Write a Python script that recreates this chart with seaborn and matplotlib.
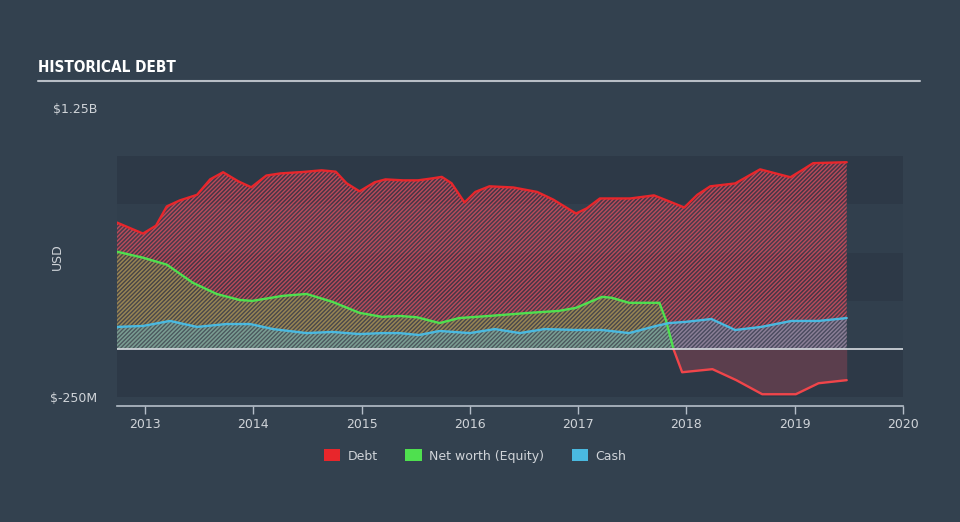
import matplotlib
matplotlib.use("Agg")
import matplotlib.pyplot as plt
import seaborn as sns
from matplotlib.patches import Patch
from matplotlib.lines import Line2D

# ---- data (millions USD, decimal years) ----
debt_x = [2012.74, 2012.98, 2013.10, 2013.20, 2013.32, 2013.48, 2013.60, 2013.72, 2013.86, 2013.98,
          2014.12, 2014.25, 2014.45, 2014.63, 2014.76, 2014.86, 2014.98, 2015.12, 2015.22, 2015.38,
          2015.52, 2015.65, 2015.74, 2015.83, 2015.95, 2016.05, 2016.18, 2016.40, 2016.62, 2016.77,
          2016.98, 2017.08, 2017.20, 2017.48, 2017.70, 2017.84, 2017.98, 2018.10, 2018.22, 2018.45,
          2018.68, 2018.96, 2019.06, 2019.17, 2019.48]
debt_y = [656, 599, 640, 740, 771, 800, 880, 917, 870, 839,
          900, 911, 918, 927, 920, 860, 818, 865, 880, 875,
          875, 885, 893, 860, 760, 815, 844, 838, 815, 775,
          703, 730, 781, 781, 797, 766, 734, 800, 844, 859,
          932, 891, 925, 964, 969]

equity_x = [2012.74, 2012.98, 2013.20, 2013.44, 2013.66, 2013.87, 2013.99, 2014.27, 2014.49, 2014.73,
            2014.98, 2015.19, 2015.35, 2015.51, 2015.72, 2015.90, 2016.18, 2016.55, 2016.82, 2016.98,
            2017.22, 2017.31, 2017.47, 2017.75, 2017.81, 2017.88, 2017.96, 2018.24, 2018.46, 2018.70,
            2019.01, 2019.22, 2019.48]
equity_y = [505, 474, 438, 344, 286, 255, 250, 276, 286, 245,
            188, 167, 172, 165, 135, 161, 172, 188, 198, 214,
            271, 266, 240, 240, 151, 0, -120, -104, -161, -234,
            -234, -177, -161]

cash_x = [2012.74, 2012.98, 2013.23, 2013.48, 2013.75, 2013.97, 2014.18, 2014.49, 2014.73, 2014.98,
          2015.19, 2015.35, 2015.53, 2015.72, 2016.00, 2016.23, 2016.46, 2016.69, 2016.98, 2017.22,
          2017.47, 2017.72, 2017.84, 2017.99, 2018.23, 2018.45, 2018.69, 2018.97, 2019.22, 2019.48]
cash_y = [115, 120, 146, 115, 130, 130, 104, 83, 89, 78,
          83, 83, 73, 94, 83, 104, 83, 104, 99, 99,
          83, 120, 135, 141, 156, 99, 115, 146, 146, 161]

years = [2013, 2014, 2015, 2016, 2017, 2018, 2019, 2020]
legend_labels = ["Debt", "Net worth (Equity)", "Cash"]

# ---- style ----
BG = "#33414f"
BAND = "#2d3947"
RED = "#e8262b"
GREEN = "#4fe04f"
BLUE = "#4ab9e0"
TXT = "#d0d4d9"

sns.set_theme(style="dark")
plt.rcParams["font.family"] = ["DejaVu Sans"]
plt.rcParams["hatch.linewidth"] = 1.0

fig = plt.figure(figsize=(9.6, 5.22), dpi=100, facecolor=BG)
ax = fig.add_axes([117 / 960, 1 - 406 / 522, (903 - 117) / 960, (406 - 108) / 522])
ax.set_facecolor(BG)
ax.grid(False)

xmin, xmax = 2012.74, 2020.0
ax.set_xlim(xmin, xmax)
ax.set_ylim(-295, 1250)

# background bands
for lo, hi in [(-250, 0), (250, 500), (750, 1000)]:
    ax.axhspan(lo, hi, color=BAND, lw=0, zorder=0)
for lo, hi in [(0, 250), (500, 750)]:
    ax.axhspan(lo, hi, color="#313f4d", lw=0, zorder=0)

# fills
HATCH = "////////"
ax.fill_between(debt_x, 0, debt_y, facecolor=(0.91, 0.15, 0.25, 0.14),
                edgecolor=(0.90, 0.32, 0.38, 0.72), hatch=HATCH, lw=0, zorder=1)
pos_n = equity_y.index(0) + 1
ax.fill_between(equity_x[:pos_n], 0, equity_y[:pos_n], facecolor=(0.31, 0.88, 0.31, 0.10),
                edgecolor=(0.45, 0.80, 0.30, 0.40), hatch=HATCH, lw=0, zorder=2)
ax.fill_between(equity_x[pos_n - 1:], 0, equity_y[pos_n - 1:], facecolor=(0.91, 0.3, 0.38, 0.25),
                lw=0, zorder=2)
ax.fill_between(cash_x, 0, cash_y, facecolor=(0.29, 0.72, 0.88, 0.15),
                edgecolor=(0.35, 0.72, 0.85, 0.40), hatch=HATCH, lw=0, zorder=3)

# lines
LW = 1.7
sns.lineplot(x=debt_x, y=debt_y, ax=ax, color=RED, lw=LW, zorder=5)
sns.lineplot(x=equity_x[:pos_n], y=equity_y[:pos_n], ax=ax, color=GREEN, lw=LW, zorder=5)
sns.lineplot(x=equity_x[pos_n - 1:], y=equity_y[pos_n - 1:], ax=ax, color="#f0454a", lw=LW, zorder=5)
sns.lineplot(x=cash_x, y=cash_y, ax=ax, color=BLUE, lw=LW, zorder=5)
ax.axhline(0, color="#d8dde2", lw=1.2, zorder=6)

# axes
for s in ["top", "right", "left"]:
    ax.spines[s].set_visible(False)
ax.spines["bottom"].set_color("#b5bec9")
ax.spines["bottom"].set_linewidth(1.2)
ax.set_xticks(years)
ax.set_xticklabels([str(y) for y in years])
ax.tick_params(axis="x", colors="#b5bec9", direction="out", length=6, width=1,
               labelcolor=TXT, labelsize=9, pad=3, bottom=True)
ax.set_yticks([1250, -250])
ax.set_yticklabels(["$1.25B", "$-250M"])
ax.tick_params(axis="y", length=0, labelcolor=TXT, labelsize=9, pad=14)
ax.set_xlabel("")
ax.set_ylabel("")

fig.text(57 / 960, 1 - 257 / 522, "USD", rotation=90, color=TXT, fontsize=9,
         ha="center", va="center")

# title
fig.text(38 / 960, 1 - 68 / 522, "HISTORICAL DEBT", color="white", fontsize=11,
         fontweight="bold", family=["DejaVu Sans"], fontstretch="condensed",
         ha="left", va="center")
fig.add_artist(Line2D([38 / 960, 920 / 960], [1 - 81 / 522, 1 - 81 / 522],
                      color="#b8bec6", lw=1.5, transform=fig.transFigure))

# legend
handles = [Patch(facecolor=RED, edgecolor="none"),
           Patch(facecolor=GREEN, edgecolor="none"),
           Patch(facecolor=BLUE, edgecolor="none")]
leg = fig.legend(handles, legend_labels, loc="center", bbox_to_anchor=(0.495, 1 - 456 / 522),
                 ncol=3, frameon=False, fontsize=9, handlelength=1.3, handleheight=1.1,
                 columnspacing=2.2, handletextpad=0.6)
for t in leg.get_texts():
    t.set_color(TXT)

fig.savefig("out.png", dpi=100, facecolor=BG)
